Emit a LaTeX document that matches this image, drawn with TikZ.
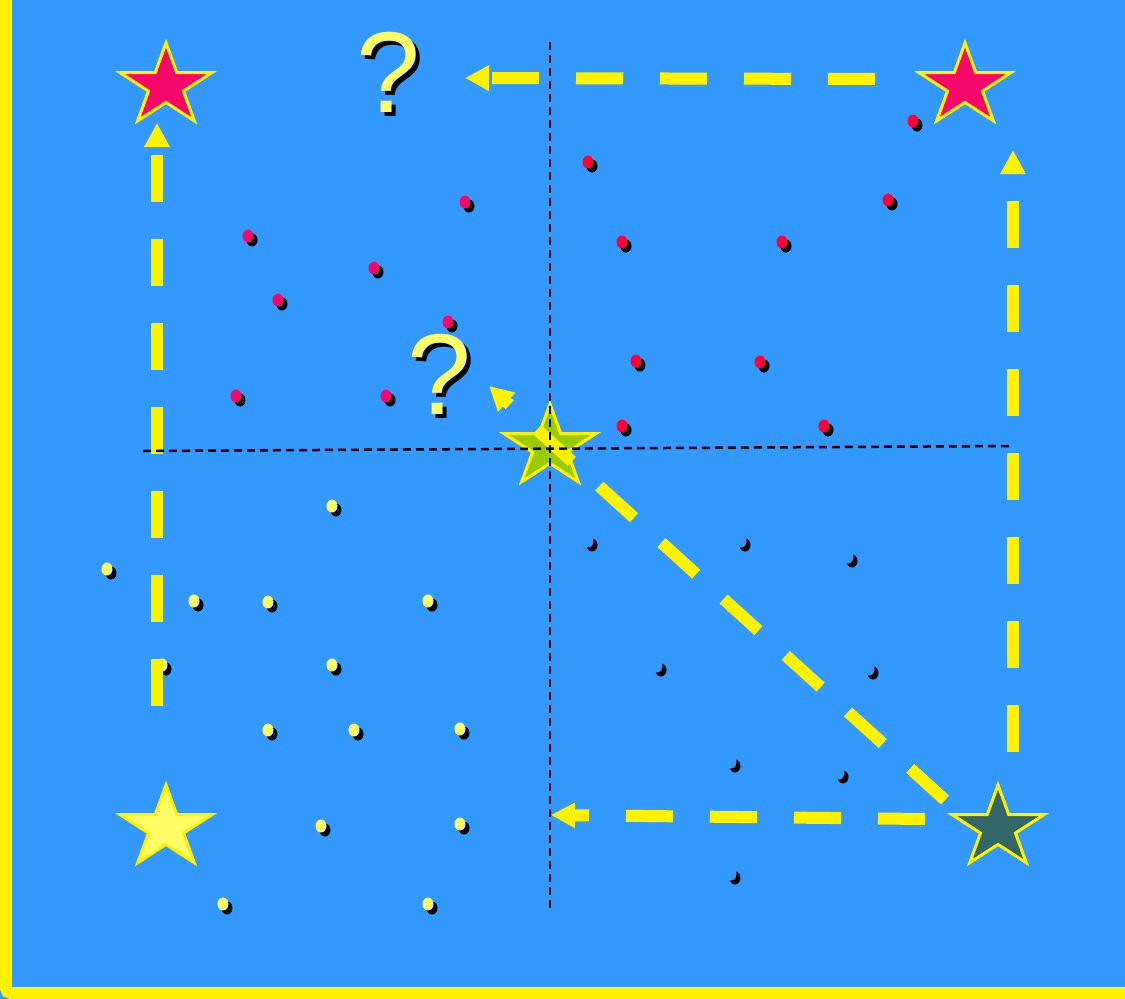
\documentclass[tikz,border=0pt]{standalone}
\usepackage{fontspec}
\setmainfont{Liberation Sans}
\usetikzlibrary{arrows.meta}

\definecolor{skyblue}{HTML}{3399FF}
\definecolor{lemon}{HTML}{FFFF66}
\definecolor{rosered}{HTML}{F5086A}
\definecolor{brightred}{HTML}{FF0038}
\definecolor{olivegreen}{HTML}{99CC00}
\definecolor{slateteal}{HTML}{336666}

\newcommand{\shadowq}{\makebox[0pt][l]{\kern4pt\raisebox{-4pt}{\color{black}?}}?}

\begin{document}
\begin{tikzpicture}[
  x=1pt,y=1pt,
  frame/.style={yellow,line width=12pt,rounded corners=5pt},
  route/.style={yellow,line width=12pt,dash pattern=on 47pt off 37pt,-{Triangle[length=24pt,width=24pt]}},
  axis line/.style={black,line width=2.5pt,dash pattern=on 8pt off 5pt},
  guess/.style={inner sep=0pt,text=lemon,font=\fontsize{115}{115}\selectfont},
  pics/bigstar/.style={code={
    \draw[yellow,line width=3pt,fill=#1,xscale=1.12] (90:43) -- (126:16.4) -- (162:43) -- (198:16.4) -- (234:43) -- (270:16.4) -- (306:43) -- (342:16.4) -- (18:43) -- (54:16.4) -- cycle;
    \coordinate (-c) at (0,0);}}
]
\useasboundingbox (0,0) rectangle (1125,-999);
\clip (0,0) rectangle (1125,-999);
\fill[skyblue] (0,0) rectangle (1125,-999);
\draw[frame] (6,20) -- (6,-993) -- (1140,-993);

% dots with their shadows
\foreach \x/\y in {465/202,248/236,374/268,278/300,448/322,236/396,386/396} {
  \fill[black] (\x+4,-\y-4) ellipse (5.5pt and 6.5pt);
  \fill[rosered] (\x,-\y) ellipse (5.5pt and 6.5pt);
}
\foreach \x/\y in {913/121,588/162,888/200,622/242,782/242,636/361,760/362,622/426,824/426} {
  \fill[black] (\x+4,-\y-4) ellipse (5.5pt and 6.5pt);
  \fill[brightred] (\x,-\y) ellipse (5.5pt and 6.5pt);
}
\foreach \x/\y in {332/506,107/569,194/601,268/602,428/601,162/665,332/665,268/730,354/730,460/729,321/826,460/824,223/904,428/904} {
  \fill[black] (\x+4,-\y-4) ellipse (5.5pt and 6.5pt);
  \fill[lemon] (\x,-\y) ellipse (5.5pt and 6.5pt);
}
\foreach \x/\y in {588/541,741/541,848/557,657/666,869/669,731/762,839/773,731/874} {
  \fill[black] (\x+4,-\y-4) ellipse (5.5pt and 6.5pt);
  \fill[skyblue] (\x,-\y) ellipse (5.5pt and 6.5pt);
}

% stars
\pic (tl) at (166,-86) {bigstar=rosered};
\pic (tr) at (965,-86) {bigstar=rosered};
\pic (mid) at (550,-447) {bigstar=olivegreen};
\pic (bl) at (166,-828) {bigstar=lemon};
\pic (br) at (998,-828) {bigstar=slateteal};

% arrow ends
\coordinate (w0) at (157,-706);
\coordinate (w1) at (157,-123);
\coordinate (e0) at (1013,-752);
\coordinate (e1) at (1013,-150);
\coordinate (n0) at (875,-79);
\coordinate (n1) at (465,-78);
\coordinate (s0) at (925,-819);
\coordinate (s1) at (551,-815);
\coordinate (d0) at (945,-800);
\coordinate (d1) at (489,-386);

\draw[route] (w0) -- (w1);
\draw[route] (e0) -- (e1);
\draw[route] (n0) -- (n1);
\draw[route] (s0) -- (s1);
\draw[route] (d0) -- (d1);

% axes
\coordinate (v0) at (550,-42);
\coordinate (v1) at (550,-910);
\coordinate (h0) at (143,-451);
\coordinate (h1) at (1013,-446);
\draw[axis line] (v0) -- (v1);
\draw[axis line] (h0) -- (h1);

% question marks
\node[guess] (q1) at (388,-74) {\shadowq};
\node[guess] (q2) at (439,-376) {\shadowq};
\end{tikzpicture}
\end{document}
